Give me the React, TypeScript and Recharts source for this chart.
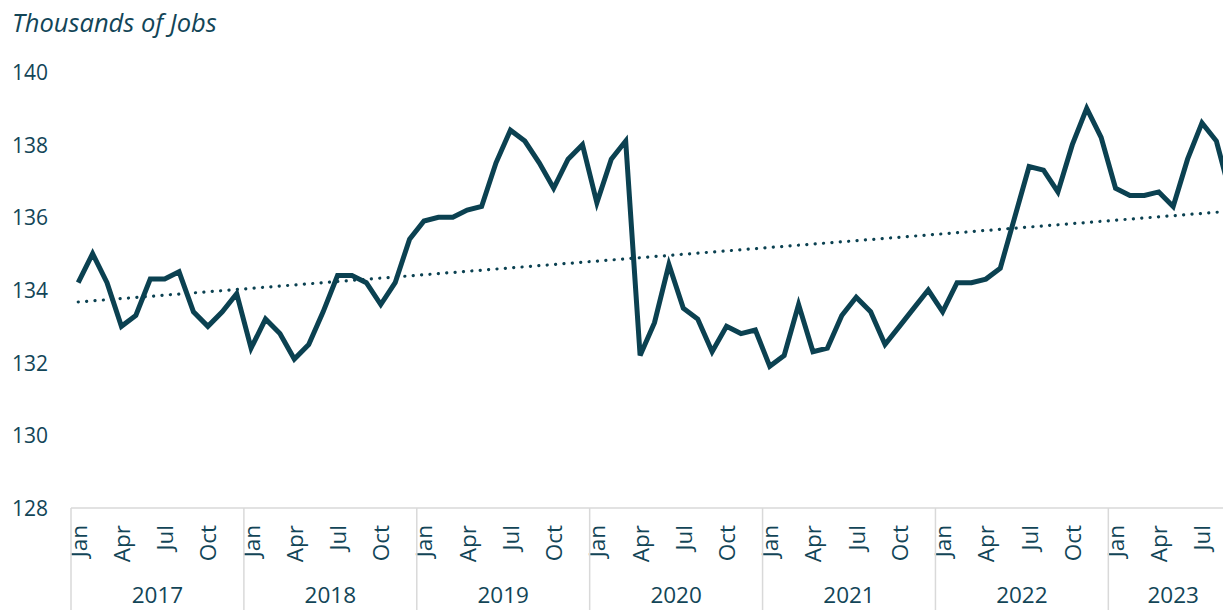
import React from 'react';
import { LineChart, Line, XAxis, YAxis, ReferenceLine } from 'recharts';

const years = [2017, 2018, 2019, 2020, 2021, 2022, 2023];
const monthNames = ['Jan', 'Feb', 'Mar', 'Apr', 'May', 'Jun', 'Jul', 'Aug', 'Sep', 'Oct', 'Nov', 'Dec'];
const labelledMonths = ['Jan', 'Apr', 'Jul', 'Oct'];
const yTicks = [128, 130, 132, 134, 136, 138, 140];

// thousands of jobs, Jan 2017 .. Sep 2023
const jobs = [
	134.2, 135.0, 134.2, 133.0, 133.3, 134.3, 134.3, 134.5, 133.4, 133.0, 133.4, 133.9,
	132.4, 133.2, 132.8, 132.1, 132.5, 133.4, 134.4, 134.4, 134.2, 133.6, 134.2, 135.4,
	135.9, 136.0, 136.0, 136.2, 136.3, 137.5, 138.4, 138.1, 137.5, 136.8, 137.6, 138.0,
	136.4, 137.6, 138.1, 132.2, 133.1, 134.7, 133.5, 133.2, 132.3, 133.0, 132.8, 132.9,
	131.9, 132.2, 133.6, 132.3, 132.4, 133.3, 133.8, 133.4, 132.5, 133.0, 133.5, 134.0,
	133.4, 134.2, 134.2, 134.3, 134.6, 136.0, 137.4, 137.3, 136.7, 138.0, 139.0, 138.2,
	136.8, 136.6, 136.6, 136.7, 136.3, 137.6, 138.6, 138.1, 136.6,
];

// linear trend read at the first and last month
const trendStart = 133.67;
const trendEnd = 136.17;

const data = jobs.map((value, i) => {
	const year = years[Math.floor(i / 12)];
	const month = monthNames[i % 12];
	return { key: `${year}-${month}`, year, month, value };
});

const TEXT = '#124557';
const LINE = '#0b4151';
const GRID = '#d9d9d9';
const FONT = '"Open Sans", sans-serif';

const CHART_W = 1240;
const CHART_H = 610;
const PLOT_LEFT = 71;
const PLOT_RIGHT = CHART_W - 2;
const BAND = (PLOT_RIGHT - PLOT_LEFT) / data.length;

function YTick({ y, payload }: any) {
	return (
		<text x={48} y={y} textAnchor="end" dominantBaseline="central" fill={TEXT} fontSize={21} fontFamily={FONT}>
			{payload.value}
		</text>
	);
}

function XTick({ x, y, index }: any) {
	const row = data[index];
	if (!row) return <g />;
	const parts: React.ReactNode[] = [];
	if (labelledMonths.includes(row.month)) {
		const tx = x + 8.5;
		const ty = y + 17;
		parts.push(
			<text key="m" x={tx} y={ty} transform={`rotate(-90 ${tx} ${ty})`} textAnchor="end" fill={TEXT} fontSize={22.5} fontFamily={FONT}>
				{row.month}
			</text>
		);
	}
	if (row.month === 'Jan') {
		const left = x - BAND / 2;
		const count = data.filter((d) => d.year === row.year).length;
		parts.push(<line key="s" x1={left} y1={y} x2={left} y2={CHART_H} stroke={GRID} strokeWidth={1.5} />);
		parts.push(
			<text key="y" x={left + (count * BAND) / 2} y={y + 95} textAnchor="middle" fill={TEXT} fontSize={22.5} fontFamily={FONT}>
				{row.year}
			</text>
		);
	}
	return <g>{parts}</g>;
}

export default function App() {
	return (
		<div style={{ position: 'fixed', left: 0, top: 0, width: 1223, height: 610, overflow: 'hidden', background: '#fff' }}>
			<div
				style={{
					position: 'absolute',
					left: 12,
					top: 10,
					fontFamily: FONT,
					fontStyle: 'italic',
					fontSize: 25.5,
					lineHeight: 1,
					color: TEXT,
					whiteSpace: 'nowrap',
				}}
			>
				Thousands of Jobs
			</div>
			<LineChart width={CHART_W} height={CHART_H} data={data} margin={{ top: 72, right: 2, bottom: 0, left: 0 }}>
				<XAxis
					dataKey="key"
					scale="band"
					interval={0}
					tickLine={false}
					tickSize={0}
					tickMargin={0}
					height={102}
					axisLine={{ stroke: GRID, strokeWidth: 1.5 }}
					tick={<XTick />}
				/>
				<YAxis
					domain={[128, 140]}
					ticks={yTicks}
					width={71}
					axisLine={false}
					tickLine={false}
					tick={<YTick />}
				/>
				<ReferenceLine
					segment={[
						{ x: data[0].key, y: trendStart },
						{ x: data[data.length - 1].key, y: trendEnd },
					]}
					stroke={LINE}
					strokeWidth={3.2}
					strokeDasharray="0.1 8.3"
					strokeLinecap="round"
				/>
				<Line
					type="linear"
					dataKey="value"
					stroke={LINE}
					strokeWidth={5}
					dot={false}
					isAnimationActive={false}
				/>
			</LineChart>
		</div>
	);
}
